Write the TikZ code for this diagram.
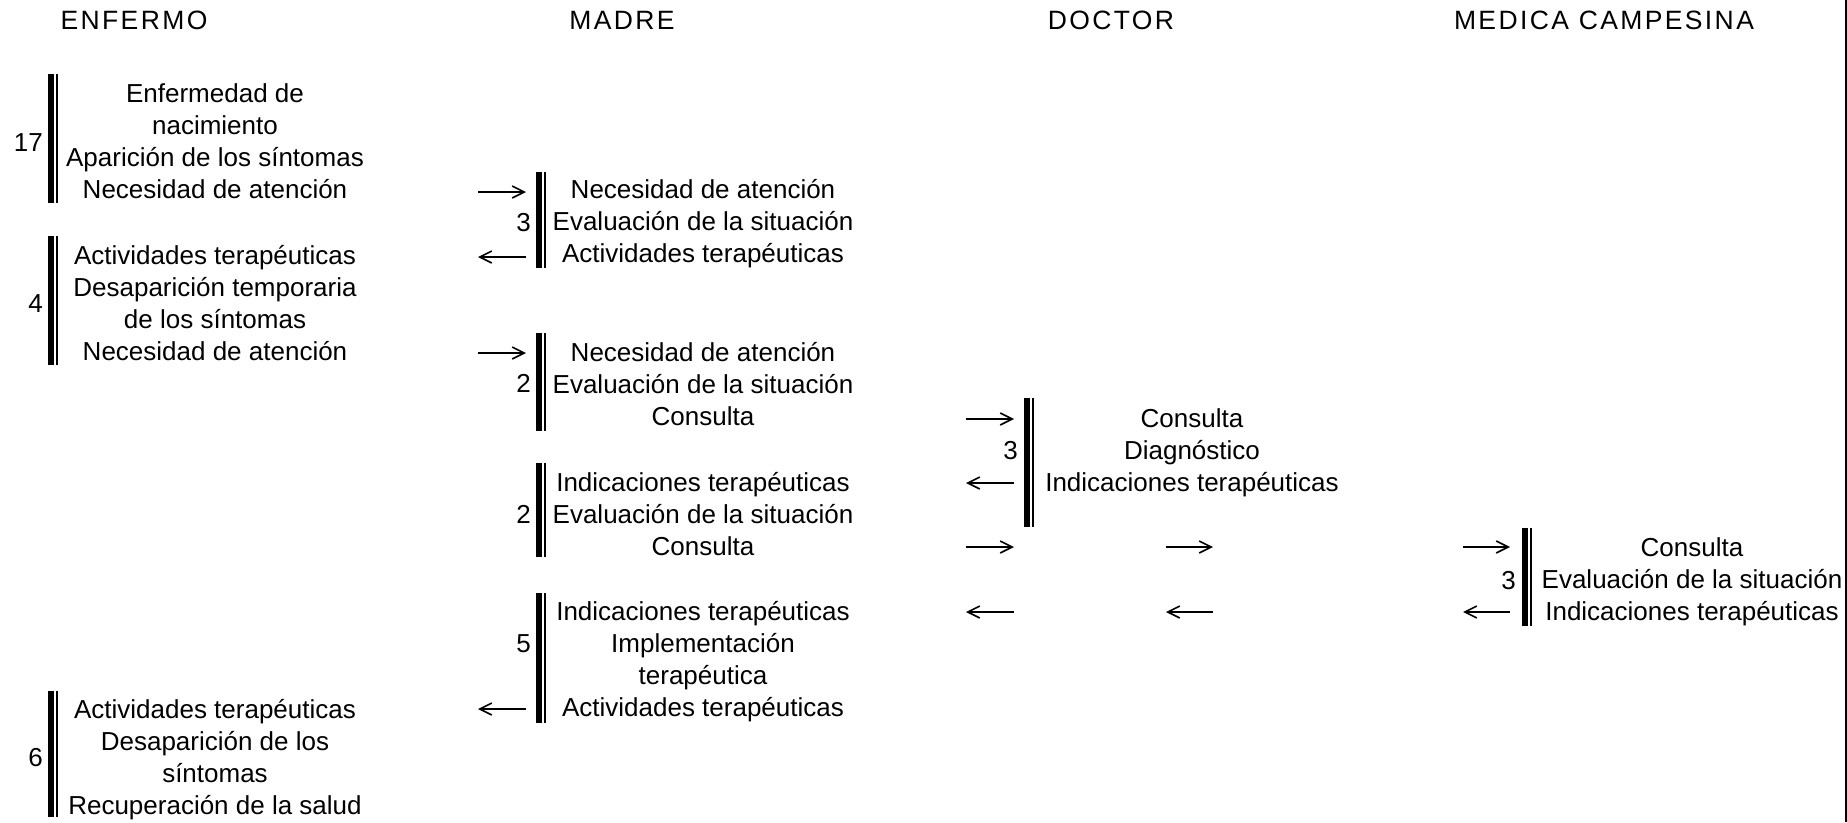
\documentclass[tikz,border=0pt]{standalone}
\usepackage{fontspec}
\setmainfont{Liberation Sans}
\newfontfamily\headfont[LetterSpace=9]{Liberation Sans}
\usetikzlibrary{arrows.meta}
\tikzset{
  body/.style={font=\fontsize{26}{32.3}\selectfont, align=center, anchor=base, inner sep=0pt},
  head/.style={font=\headfont\fontsize{26.5}{30}\selectfont, anchor=base, inner sep=0pt},
  num/.style={font=\fontsize{26}{30}\selectfont, anchor=base east, inner sep=0pt},
  thickbar/.style={line width=6pt},
  thinbar/.style={line width=2pt},
  msg/.style={line width=1.5pt, -{Straight Barb[length=12pt,width=12pt,line width=1.6pt]}},
  edge line/.style={line width=1.3pt},
}
\newcommand\dblbar[3]{%
  \draw[thickbar] (#1+3,#2) -- (#1+3,#3);
  \draw[thinbar] (#1+8.5,#2) -- (#1+8.5,#3);}
\newcommand\msgarrow[4]{%
  \coordinate (#1s) at (#2,#4);
  \coordinate (#1e) at (#3,#4);
  \draw[msg] (#1s) -- (#1e);}
\begin{document}
\begin{tikzpicture}[x=1pt,y=-1pt]
\useasboundingbox (0,0) rectangle (1847,822);
\draw[edge line] (1846,0) -- (1846,822);
% headers
\node[head] (hE) at (134,29) {ENFERMO};
\node[head] (hM) at (622,29) {MADRE};
\node[head] (hD) at (1111,29) {DOCTOR};
\node[head] (hC) at (1604,29) {MEDICA CAMPESINA};
% ENFERMO blocks (node y = baseline of last line)
\dblbar{48}{74}{203}
\node[num] (nE1) at (43,151) {17};
\node[body] (E1) at (215,198.9) {Enfermedad de\\nacimiento\\Aparición de los síntomas\\Necesidad de atención};
\dblbar{48}{236}{365}
\node[num] (nE2) at (43,312) {4};
\node[body] (E2) at (215,360.9) {Actividades terapéuticas\\Desaparición temporaria\\de los síntomas\\Necesidad de atención};
\dblbar{48}{691}{817}
\node[num] (nE3) at (43,766) {6};
\node[body] (E3) at (215,814.9) {Actividades terapéuticas\\Desaparición de los\\síntomas\\Recuperación de la salud};
% MADRE blocks
\dblbar{536}{172}{268}
\node[num] (nM1) at (531,231) {3};
\node[body] (M1) at (703,262.6) {Necesidad de atención\\Evaluación de la situación\\Actividades terapéuticas};
\dblbar{536}{333}{431}
\node[num] (nM2) at (531,392) {2};
\node[body] (M2) at (703,425.6) {Necesidad de atención\\Evaluación de la situación\\Consulta};
\dblbar{536}{463}{557}
\node[num] (nM3) at (531,523) {2};
\node[body] (M3) at (703,555.6) {Indicaciones terapéuticas\\Evaluación de la situación\\Consulta};
\dblbar{536}{593}{723}
\node[num] (nM4) at (531,652) {5};
\node[body] (M4) at (703,716.9) {Indicaciones terapéuticas\\Implementación\\terapéutica\\Actividades terapéuticas};
% DOCTOR block
\dblbar{1024}{398}{527}
\node[num] (nD1) at (1018,459) {3};
\node[body] (D1) at (1192,491.6) {Consulta\\Diagnóstico\\Indicaciones terapéuticas};
% MEDICA CAMPESINA block
\dblbar{1522}{528}{626}
\node[num] (nC1) at (1516,589) {3};
\node[body] (C1) at (1692,620.6) {Consulta\\Evaluación de la situación\\Indicaciones terapéuticas};
% arrows
\msgarrow{a1}{478}{526}{192}
\msgarrow{a2}{526}{478}{257}
\msgarrow{a3}{478}{526}{353}
\msgarrow{a4}{966}{1014}{419}
\msgarrow{a5}{1014}{966}{483}
\msgarrow{a6}{966}{1014}{547}
\msgarrow{a7}{1166}{1213}{547}
\msgarrow{a8}{1463}{1510}{547}
\msgarrow{a9}{1510}{1463}{612}
\msgarrow{a10}{1213}{1166}{612}
\msgarrow{a11}{1014}{966}{612}
\msgarrow{a12}{526}{478}{709}
\end{tikzpicture}
\end{document}
